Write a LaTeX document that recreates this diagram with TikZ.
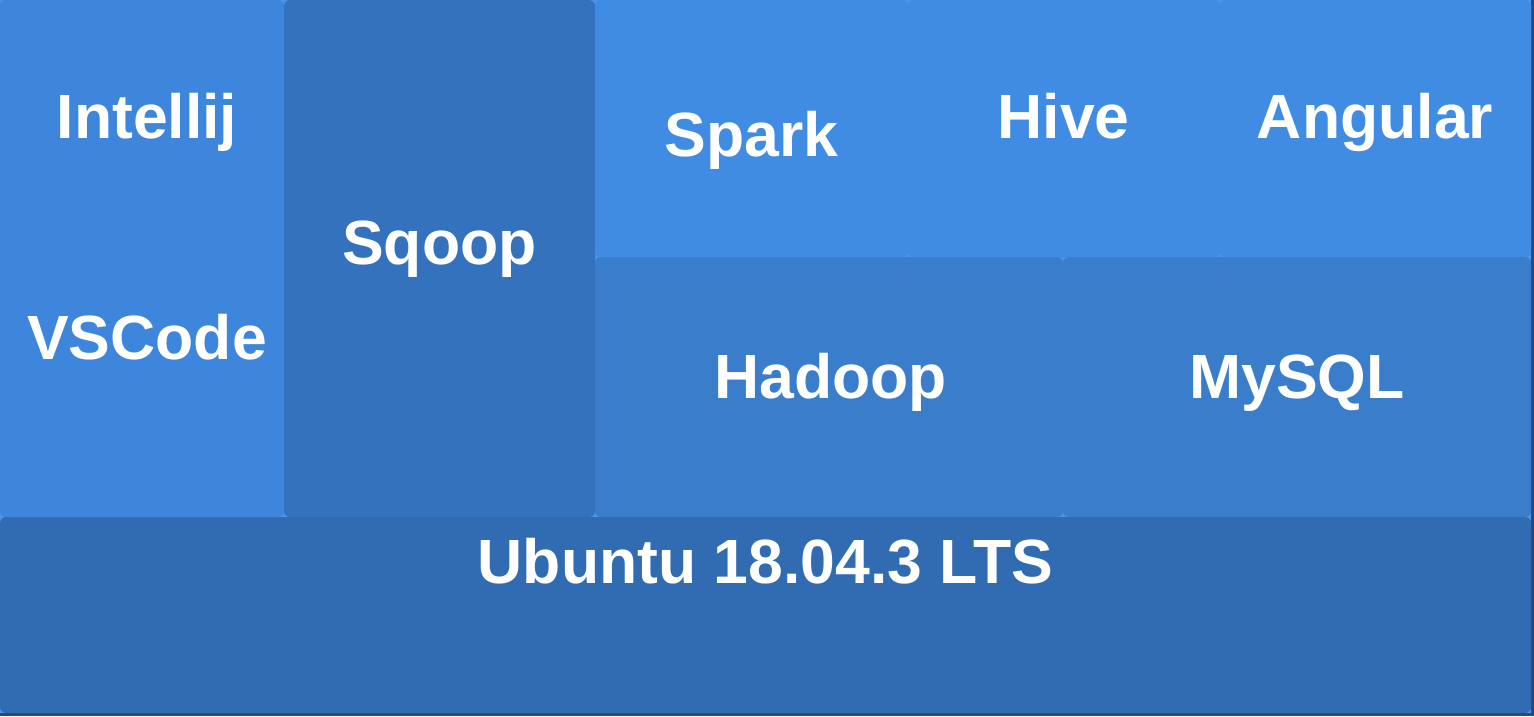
\documentclass[tikz,border=0pt]{standalone}
\usepackage{fontspec}
\setmainfont{Liberation Sans}
\usepackage{xcolor}
\definecolor{gapblue}{HTML}{4A94EC}
\definecolor{edgedark}{HTML}{27497F}
\definecolor{idefill}{HTML}{3E86DB}
\definecolor{sqoopfill}{HTML}{3572BD}
\definecolor{topfill}{HTML}{408CE2}
\definecolor{midfill}{HTML}{3A7DCB}
\definecolor{osfill}{HTML}{316CB2}
\tikzstyle{blockbox} = [draw=none, rectangle, rounded corners=6pt,
    inner sep=0, outer sep=0]
\tikzstyle{blocktitle} = [text=white, font=\fontsize{62.5}{70}\selectfont\bfseries,
    anchor=base, inner sep=0]

\begin{document}
\begin{tikzpicture}[x=1pt,y=-1pt]
\useasboundingbox (0,0) rectangle (1534,716);
\fill[gapblue] (0,0) rectangle (1531,713);
\fill[edgedark] (1531,0) rectangle (1534,716);
\fill[edgedark] (0,713) rectangle (1534,716);

% blocks
\node[blockbox, fill=idefill, minimum width=284pt, minimum height=517pt] (ide) at (142,258.5) {};
\node[blockbox, fill=sqoopfill, minimum width=311pt, minimum height=517pt] (sqoopbox) at (439.5,258.5) {};
\node[blockbox, fill=topfill, minimum width=313pt, minimum height=257pt] (sparkbox) at (751.5,128.5) {};
\node[blockbox, fill=topfill, minimum width=312pt, minimum height=257pt] (hivebox) at (1064,128.5) {};
\node[blockbox, fill=topfill, minimum width=311pt, minimum height=257pt] (angularbox) at (1375.5,128.5) {};
\node[blockbox, fill=midfill, minimum width=468pt, minimum height=260pt] (hadoopbox) at (829,387) {};
\node[blockbox, fill=midfill, minimum width=468pt, minimum height=260pt] (mysqlbox) at (1297,387) {};
\node[blockbox, fill=osfill, minimum width=1531pt, minimum height=196pt] (ubuntubox) at (765.5,615) {};

% titles
\node[blocktitle] (intellij) at (147,138) {Intellij};
\node[blocktitle] (vscode) at (147,359) {VSCode};
\node[blocktitle] (sqoop) at (439.5,264) {Sqoop};
\node[blocktitle] (spark) at (751.5,156) {Spark};
\node[blocktitle] (hive) at (1063.5,138) {Hive};
\node[blocktitle] (angular) at (1375,138) {Angular};
\node[blocktitle] (hadoop) at (830.5,398) {Hadoop};
\node[blocktitle] (mysql) at (1297,398) {MySQL};
\node[blocktitle] (ubuntu) at (765.5,583) {Ubuntu 18.04.3 LTS};
\end{tikzpicture}
\end{document}
